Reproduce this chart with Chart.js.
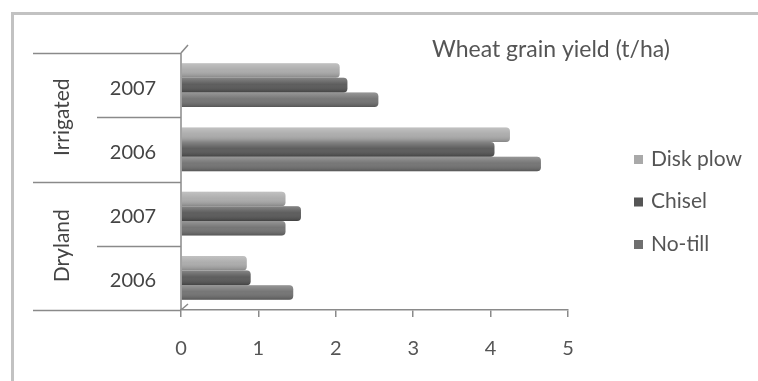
<!DOCTYPE html>
<html>
<head>
<meta charset="utf-8">
<script src="https://cdn.jsdelivr.net/npm/chart.js@4.4.1/dist/chart.umd.min.js"></script>
<style>
  html, body { margin: 0; padding: 0; background: #fff; }
  #wrap { width: 758px; height: 381px; position: relative; }
</style>
</head>
<body>
<div id="wrap"><canvas id="yield-chart" width="758" height="381"></canvas></div>
<script>
// category rows, top to bottom
const years = ["2007", "2006", "2007", "2006"];
const groups = ["Irrigated", "Dryland"];
const seriesNames = ["Disk plow", "Chisel", "No-till"];
const diskPlow = [2.05, 4.25, 1.35, 0.85];
const chisel = [2.15, 4.05, 1.55, 0.9];
const noTill = [2.55, 4.65, 1.35, 1.45];
const xTicks = [0, 1, 2, 3, 4, 5];
const colors = ["#a9a9a9", "#555555", "#6f6f6f"];

const FONT = "Lato, 'Open Sans', sans-serif";

// frame, category labels, legend and title drawn by hand
const decor = {
    id: "decor",
    beforeDraw(chart) {
        const ctx = chart.ctx;
        ctx.save();
        ctx.fillStyle = "#fff";
        ctx.fillRect(0, 0, chart.width, chart.height);
        ctx.strokeStyle = "#c2c2c2";
        ctx.lineWidth = 3;
        ctx.strokeRect(12.5, 13.5, 900, 500);
        ctx.restore();
    },
    afterDatasetsDraw(chart) {
        // soft cylinder shading over each bar, like the 3D bars in the original
        const ctx = chart.ctx;
        ctx.save();
        chart.data.datasets.forEach((ds, i) => {
            chart.getDatasetMeta(i).data.forEach((bar) => {
                const top = bar.y - bar.height / 2;
                const g = ctx.createLinearGradient(0, top, 0, top + bar.height);
                g.addColorStop(0, "rgba(255,255,255,0.28)");
                g.addColorStop(0.45, "rgba(255,255,255,0.05)");
                g.addColorStop(1, "rgba(0,0,0,0.22)");
                ctx.fillStyle = g;
                ctx.beginPath();
                ctx.roundRect(bar.base, top, bar.x - bar.base, bar.height, [0, 4, 4, 0]);
                ctx.fill();
            });
        });
        ctx.restore();
    },
    afterDraw(chart) {
        const ctx = chart.ctx;
        const area = chart.chartArea;
        const y = chart.scales.y;
        const step = y.getPixelForValue(1) - y.getPixelForValue(0);
        ctx.save();
        ctx.strokeStyle = "#8a8a8a";
        ctx.lineWidth = 1.5;
        // axis wall
        ctx.beginPath();
        ctx.moveTo(area.left, area.top);
        ctx.lineTo(area.left, area.bottom);
        ctx.moveTo(area.left, area.top);
        ctx.lineTo(area.left + 7, area.top - 8);
        ctx.moveTo(area.left, area.bottom);
        ctx.lineTo(area.left + 7, area.bottom - 6);
        ctx.stroke();
        // row separators
        ctx.beginPath();
        for (let i = 0; i <= years.length; i++) {
            const py = Math.round(y.getPixelForValue(i) - step / 2) + 0.5;
            const x0 = i % 2 === 0 ? 33 : 97;
            ctx.moveTo(x0, py);
            ctx.lineTo(area.left, py);
        }
        ctx.stroke();
        // year labels
        ctx.fillStyle = "#444";
        ctx.font = "20px " + FONT;
        ctx.textAlign = "center";
        ctx.textBaseline = "middle";
        years.forEach((lab, i) => {
            ctx.fillText(lab, 133, y.getPixelForValue(i) + 3);
        });
        // group labels, rotated
        ctx.font = "21px " + FONT;
        groups.forEach((g, k) => {
            const cy = (y.getPixelForValue(k * 2) + y.getPixelForValue(k * 2 + 1)) / 2;
            ctx.save();
            ctx.translate(62, cy);
            ctx.rotate(-Math.PI / 2);
            ctx.fillText(g, 0, 0);
            ctx.restore();
        });
        // title
        ctx.fillStyle = "#555";
        ctx.font = "23px " + FONT;
        ctx.fillText("Wheat grain yield (t/ha)", 551, 50);
        // legend
        ctx.font = "21px " + FONT;
        ctx.textAlign = "left";
        chart.data.datasets.forEach((ds, i) => {
            const ly = 159 + i * 42.5;
            ctx.fillStyle = ds.backgroundColor;
            ctx.fillRect(634, ly - 4, 9, 9);
            ctx.fillStyle = "#555";
            ctx.fillText(ds.label, 651, ly);
        });
        ctx.restore();
    }
};

new Chart(document.getElementById("yield-chart"), {
    type: "bar",
    data: {
        labels: years,
        datasets: [
            { label: seriesNames[0], data: diskPlow, backgroundColor: colors[0] },
            { label: seriesNames[1], data: chisel, backgroundColor: colors[1] },
            { label: seriesNames[2], data: noTill, backgroundColor: colors[2] },
        ],
    },
    plugins: [decor],
    options: {
        indexAxis: "y",
        responsive: false,
        animation: false,
        datasets: {
            bar: {
                barPercentage: 1,
                categoryPercentage: 0.68,
                borderRadius: 4,
                borderSkipped: "start",
                borderWidth: 0,
            },
        },
        layout: {
            padding: { left: 181, right: 190, top: 53, bottom: 0 },
        },
        plugins: {
            legend: { display: false },
            tooltip: { enabled: false },
        },
        scales: {
            x: {
                min: 0,
                max: 5,
                afterBuildTicks: (s) => { s.ticks = xTicks.map((v) => ({ value: v })); },
                grid: {
                    drawOnChartArea: false,
                    tickLength: 7,
                    color: "#8a8a8a",
                    lineWidth: 1.5,
                },
                border: { color: "#8a8a8a", width: 1.5 },
                ticks: {
                    padding: 20,
                    color: "#555",
                    font: { family: FONT, size: 20 },
                },
            },
            y: {
                display: false,
                grid: { display: false },
            },
        },
    },
});
</script>
</body>
</html>
